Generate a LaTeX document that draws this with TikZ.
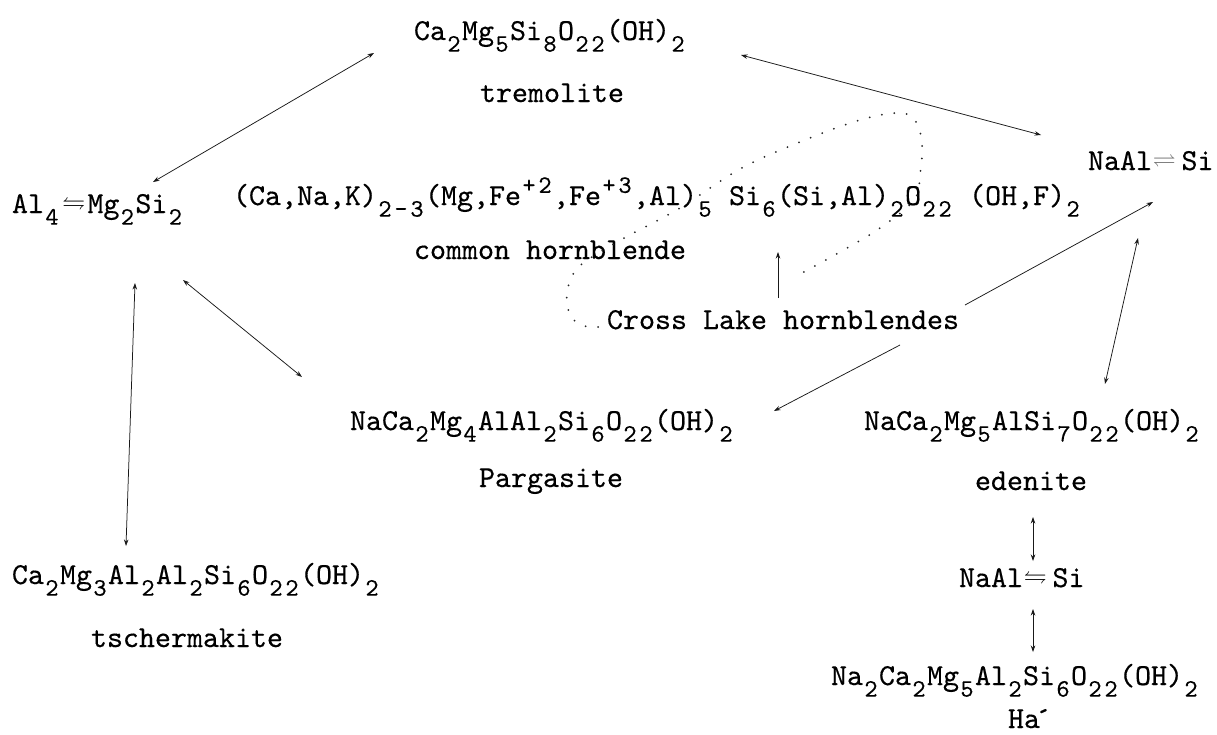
\documentclass[tikz,border=0pt]{standalone}
\usepackage{amssymb}
\usepackage{fontspec}
\setmonofont{lmmono10-regular.otf}[FakeBold=0.4]
\usetikzlibrary{arrows.meta}
\newcommand\mysz{\fontsize{30.48}{36}\selectfont\ttfamily}
\newcommand\smsz{\fontsize{25}{25}\selectfont\ttfamily}
\newcommand\dnone[1]{\raisebox{-0.38em}{\makebox[0.525em]{\smsz #1}}}
\newcommand\upone[1]{\raisebox{0.40em}{\makebox[0.525em]{\smsz #1}}}
\makeatletter
\def\dn#1{\dn@#1\@nil}
\def\dn@#1{\ifx#1\@nil\else\dnone{#1}\expandafter\dn@\fi}
\def\up#1{\up@#1\@nil}
\def\up@#1{\ifx#1\@nil\else\upone{#1}\expandafter\up@\fi}
\makeatother
\newcommand\lrh[1]{\makebox[#1]{\raisebox{0.12em}{\scalebox{0.75}{$\leftrightharpoons$}}}}
\newcommand\rlh[1]{\makebox[#1]{\raisebox{0.12em}{\color{black!55}\scalebox{0.75}{$\rightleftharpoons$}}}}
\begin{document}
\begin{tikzpicture}[x=1pt,y=-1pt,
  txt/.style={inner sep=0pt,outer sep=0pt,anchor=base west,font=\mysz,text=black},
  conn/.style={line width=0.75pt,black!90},
  biarr/.style={conn,{Stealth[length=6.5pt,width=4.5pt]}-{Stealth[length=6.5pt,width=4.5pt]}},
  onearr/.style={conn,-{Stealth[length=6.5pt,width=4.5pt]}},
  dotline/.style={line width=2pt,black!85,line cap=round,dash pattern=on 0pt off 12.5pt}]
\fill[white] (0,0) rectangle (1217,734);
\useasboundingbox (0,0) rectangle (1217,734);

% texts
\node[txt] (tre) at (414,40) {Ca\dn2Mg\dn5Si\dn8O\dn{22}(OH)\dn2};
\node[txt] (trel) at (480,102) {tremolite};
\node[txt] (alm) at (12,213) {Al\dn4\lrh{0.9em}Mg\dn2Si\dn2};
\node[txt] (nas1) at (1088,170) {NaAl\rlh{0.8em}\,Si};
\node[txt] (hbf) at (233,205) {(Ca,Na,K)\dn{2-3}(Mg,Fe\up{+2},Fe\up{+3},Al)\dn5 Si\dn6(Si,Al)\dn2O\dn{22} (OH,F)\dn2};
\node[txt] (hbl) at (414,259) {common hornblende};
\node[txt] (cl) at (607,329) {Cross Lake hornblendes};
\node[txt] (parf) at (350,430) {NaCa\dn2Mg\dn4AlAl\dn2Si\dn6O\dn{22}(OH)\dn2};
\node[txt] (parl) at (479,487) {Pargasite};
\node[txt] (edf) at (864,430) {NaCa\dn2Mg\dn5AlSi\dn7O\dn{22}(OH)\dn2};
\node[txt] (edl) at (975,490) {edenite};
\node[txt] (nas2) at (959,587) {NaAl\lrh{0.8em}\,Si};
\node[txt] (haf) at (831,685) {Na\dn2Ca\dn2Mg\dn5Al\dn2Si\dn6O\dn{22}(OH)\dn2};
\node[txt] (hal) at (1008,728) {Ha\kern-0.15em´};
\node[txt] (tsf) at (12,584) {Ca\dn2Mg\dn3Al\dn2Al\dn2Si\dn6O\dn{22}(OH)\dn2};
\node[txt] (tsl) at (91,647) {tschermakite};

% connector end points
\coordinate (a1s) at (374,53);   \coordinate (a1e) at (153,182);
\coordinate (a2s) at (741,55);   \coordinate (a2e) at (1041,135);
\coordinate (a3s) at (135,283);  \coordinate (a3e) at (126,546);
\coordinate (a4s) at (183,280);  \coordinate (a4e) at (302,377);
\coordinate (a5s) at (965,305);  \coordinate (a5e) at (1153,202);
\coordinate (a6s) at (900,345);  \coordinate (a6e) at (774,411);
\coordinate (a7s) at (1138,238); \coordinate (a7e) at (1105,384);
\coordinate (a8s) at (778,298);  \coordinate (a8e) at (778,252);
\coordinate (a9s) at (1033,517); \coordinate (a9e) at (1033,561);
\coordinate (b1s) at (1033,609); \coordinate (b1e) at (1033,652);

\draw[biarr] (a1s) -- (a1e);
\draw[biarr] (a2s) -- (a2e);
\draw[biarr] (a3s) -- (a3e);
\draw[biarr] (a4s) -- (a4e);
\draw[onearr] (a5s) -- (a5e);
\draw[onearr] (a6s) -- (a6e);
\draw[biarr] (a7s) -- (a7e);
\draw[onearr] (a8s) -- (a8e);
\draw[biarr] (a9s) -- (a9e);
\draw[biarr] (b1s) -- (b1e);

% dotted loop
\draw[dotline] plot[smooth,tension=0.6] coordinates {
 (598,327) (584,326) (572,318) (567,303) (568,287) (576,270) (592,257)
 (628,236) (680,208) (740,169) (800,142) (860,120) (900,113) (916,122)
 (922,145) (920,175) (914,200) (880,228) (840,252) (800,274)};
\end{tikzpicture}
\end{document}
